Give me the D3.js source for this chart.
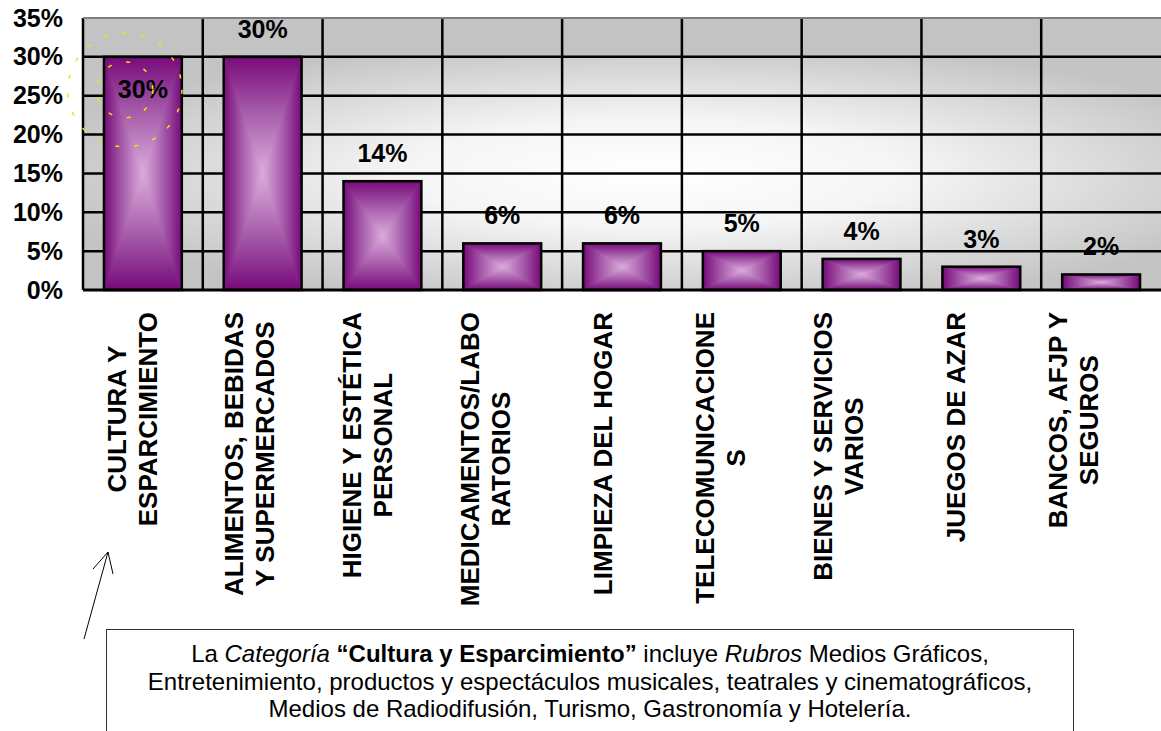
<!DOCTYPE html>
<html>
<head>
<meta charset="utf-8">
<script src="https://cdn.jsdelivr.net/npm/d3@7"></script>
<style>
  body { margin: 0; background: #fff; }
  text { font-family: Arial, "Liberation Sans", sans-serif; }
</style>
</head>
<body>
<script>
// categories (line breaks as in the original axis labels)
const categories = [
    "CULTURA Y\nESPARCIMIENTO",
    "ALIMENTOS, BEBIDAS\nY SUPERMERCADOS",
    "HIGIENE Y ESTÉTICA\nPERSONAL",
    "MEDICAMENTOS/LABO\nRATORIOS",
    "LIMPIEZA DEL HOGAR",
    "TELECOMUNICACIONE\nS",
    "BIENES Y SERVICIOS\nVARIOS",
    "JUEGOS DE AZAR",
    "BANCOS, AFJP Y\nSEGUROS"
];
const values = [30, 30, 14, 6, 6, 5, 4, 3, 2];
const yTicks = [0, 5, 10, 15, 20, 25, 30, 35];

// footnote: [text, style] pieces per line
const noteLines = [
    [["La ", ""], ["Categoría", "i"], [" ", ""], ["“Cultura y Esparcimiento”", "b"], [" incluye ", ""], ["Rubros", "i"], [" Medios Gráficos,", ""]],
    [["Entretenimiento, productos y espectáculos musicales, teatrales y cinematográficos,", ""]],
    [["Medios de Radiodifusión, Turismo, Gastronomía y Hotelería.", ""]]
];

const width = 1161, height = 731;
const plot = { left: 83, right: 1161, top: 18, bottom: 290 };

const svg = d3.select("body").append("svg")
    .attr("width", width)
    .attr("height", height);

// scales
const x = d3.scaleBand()
    .domain(categories)
    .range([plot.left, plot.right])
    .paddingInner(0.35)
    .paddingOuter(0.175);

const y = d3.scaleLinear()
    .domain([0, 35])
    .range([plot.bottom, plot.top]);

// axis labels sit on their own spacing, a bit tighter than the bars
const labelX = d3.scalePoint()
    .domain(categories)
    .range([132, 1073]);

// gradients
const defs = svg.append("defs");

const bg = defs.append("radialGradient")
    .attr("id", "bgGrad")
    .attr("cx", 0.53).attr("cy", 0.5).attr("r", 0.58);
bg.append("stop").attr("offset", 0).attr("stop-color", "#ffffff");
bg.append("stop").attr("offset", 0.4).attr("stop-color", "#f5f5f5");
bg.append("stop").attr("offset", 1).attr("stop-color", "#c4c4c4");

const barStops = [[0, "#770a7a"], [0.45, "#a458a8"], [1, "#dbaddb"]];
[["gTop", 0, 0, 0, 1], ["gBot", 0, 1, 0, 0], ["gLeft", 0, 0, 1, 0], ["gRight", 1, 0, 0, 0]]
    .forEach(([id, x1, y1, x2, y2]) => {
        const g = defs.append("linearGradient").attr("id", id)
            .attr("x1", x1).attr("y1", y1).attr("x2", x2).attr("y2", y2);
        barStops.forEach(s => g.append("stop").attr("offset", s[0]).attr("stop-color", s[1]));
    });

// plot background: flat top row, shaded body
svg.append("rect")
    .attr("x", plot.left).attr("y", plot.top)
    .attr("width", plot.right - plot.left).attr("height", plot.bottom - plot.top)
    .attr("fill", "#c3c3c3");
svg.append("rect")
    .attr("x", plot.left).attr("y", y(30))
    .attr("width", plot.right - plot.left).attr("height", plot.bottom - y(30))
    .attr("fill", "url(#bgGrad)");

// gridlines
svg.append("g")
    .selectAll("line")
    .data(yTicks.filter(t => t > 0 && t < 35))
    .join("line")
    .attr("x1", plot.left).attr("x2", plot.right)
    .attr("y1", d => y(d)).attr("y2", d => y(d))
    .attr("stroke", "#000").attr("stroke-width", 2.5);

const step = x.step();
svg.append("g")
    .selectAll("line")
    .data(categories)
    .join("line")
    .attr("x1", (d, i) => plot.left + i * step)
    .attr("x2", (d, i) => plot.left + i * step)
    .attr("y1", plot.top).attr("y2", plot.bottom)
    .attr("stroke", "#000").attr("stroke-width", 2.5);

// top border
svg.append("line")
    .attr("x1", plot.left).attr("x2", plot.right)
    .attr("y1", plot.top).attr("y2", plot.top)
    .attr("stroke", "#7f7f7f").attr("stroke-width", 2);

// bars: four shaded triangles meeting in the middle, then an outline
const bars = svg.append("g")
    .selectAll("g")
    .data(categories.map((c, i) => ({ c: c, v: values[i], i: i })))
    .join("g");

bars.each(function(d) {
    const g = d3.select(this);
    const x0 = x(d.c), x1 = x0 + x.bandwidth();
    const y0 = y(d.v), y1 = y(0);
    const cx = (x0 + x1) / 2, cy = (y0 + y1) / 2;
    g.append("rect")
        .attr("x", x0).attr("y", y0).attr("width", x1 - x0).attr("height", y1 - y0)
        .attr("fill", "#a458a8");
    const tri = [
        ["gTop", [[x0, y0], [x1, y0], [cx, cy]]],
        ["gBot", [[x0, y1], [x1, y1], [cx, cy]]],
        ["gLeft", [[x0, y0], [x0, y1], [cx, cy]]],
        ["gRight", [[x1, y0], [x1, y1], [cx, cy]]]
    ];
    tri.forEach(([id, pts]) => {
        g.append("path")
            .attr("d", "M" + pts.map(p => p.join(",")).join("L") + "Z")
            .attr("fill", `url(#${id})`)
            .attr("stroke", `url(#${id})`)
            .attr("stroke-width", 0.6);
    });
    g.append("rect")
        .attr("x", x0).attr("y", y0).attr("width", x1 - x0).attr("height", y1 - y0)
        .attr("fill", "none")
        .attr("stroke", "#000").attr("stroke-width", 2.5);
});

// x axis line
svg.append("line")
    .attr("x1", plot.left).attr("x2", plot.right)
    .attr("y1", plot.bottom).attr("y2", plot.bottom)
    .attr("stroke", "#000").attr("stroke-width", 3);

// y axis labels
const yAxis = d3.axisLeft(y)
    .tickValues(yTicks)
    .tickFormat(d => d + "%")
    .tickSize(0)
    .tickPadding(20);

svg.append("g")
    .attr("transform", `translate(${plot.left},0)`)
    .call(yAxis)
    .call(g => g.select(".domain").remove())
    .selectAll("text")
    .attr("font-family", "Arial, 'Liberation Sans', sans-serif")
    .attr("font-size", 25)
    .attr("font-weight", "bold")
    .attr("fill", "#000");

// value labels (the first one sits inside its bar)
svg.append("g")
    .selectAll("text")
    .data(categories.map((c, i) => ({ c: c, v: values[i], i: i })))
    .join("text")
    .attr("x", d => x(d.c) + x.bandwidth() / 2)
    .attr("y", d => d.i === 0 ? y(d.v) + 41 : y(d.v) - 19)
    .attr("text-anchor", "middle")
    .attr("font-size", 25)
    .attr("font-weight", "bold")
    .text(d => d.v + "%");

// yellow dashed highlight round the first label
const hx = x(categories[0]) + x.bandwidth() / 2 - 18;
const hy = y(values[0]) + 33;
[57, 28].forEach(r => {
    svg.append("circle")
        .attr("cx", hx).attr("cy", hy).attr("r", r)
        .attr("fill", "none")
        .attr("stroke", "#f2e600")
        .attr("stroke-width", 1.5)
        .attr("stroke-dasharray", "4 15");
});

// category labels, rotated, lines centred in their block
const labelTop = 312, lineH = 31, capShift = 9.3;
categories.forEach(c => {
    const lines = c.split("\n");
    const g = svg.append("g");
    const texts = lines.map(l => g.append("text")
        .attr("text-anchor", "middle")
        .attr("font-size", 26)
        .attr("font-weight", "bold")
        .text(l));
    const maxLen = d3.max(texts, t => t.node().getComputedTextLength());
    const cy = labelTop + maxLen / 2;
    texts.forEach((t, k) => {
        const bx = labelX(c) + (k - (lines.length - 1) / 2) * lineH + capShift;
        t.attr("x", bx).attr("y", cy)
            .attr("transform", `rotate(-90,${bx},${cy})`);
    });
});

// arrow pointing at the first category
svg.append("path")
    .attr("d", "M84,639L108,552M93,569L108,552L113,574")
    .attr("fill", "none")
    .attr("stroke", "#000")
    .attr("stroke-width", 1);

// footnote box
svg.append("rect")
    .attr("x", 106.5).attr("y", 629.5)
    .attr("width", 967).attr("height", 140)
    .attr("fill", "#fff")
    .attr("stroke", "#333")
    .attr("stroke-width", 1);

const note = svg.append("text")
    .attr("text-anchor", "middle")
    .attr("font-size", 24);

noteLines.forEach((parts, k) => {
    parts.forEach((p, j) => {
        const ts = note.append("tspan").text(p[0]);
        if (j === 0) ts.attr("x", 590).attr("y", 662 + k * 27.5);
        if (p[1] === "i") ts.attr("font-style", "italic");
        if (p[1] === "b") ts.attr("font-weight", "bold");
    });
});
</script>
</body>
</html>
